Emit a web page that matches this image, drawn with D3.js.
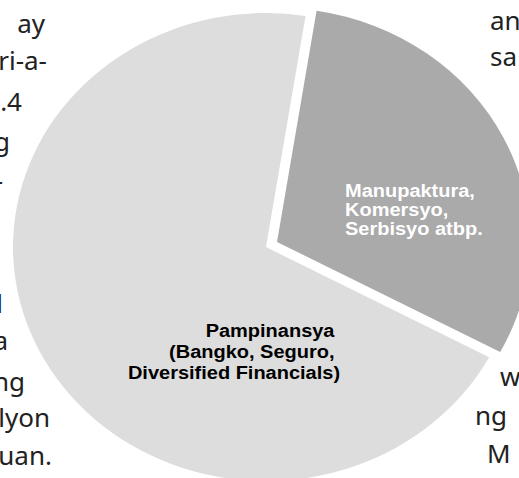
<!DOCTYPE html>
<html>
<head>
<meta charset="utf-8">
<script src="https://cdn.jsdelivr.net/npm/d3@7"></script>
<style>
  body { margin: 0; background: #fff; }
  svg { display: block; }
</style>
</head>
<body>
<div id="chart"></div>
<script>
// slices, drawn clockwise from the start angle
const sectors = ['Manupaktura, Komersyo, Serbisyo atbp.', 'Pampinansya (Bangko, Seguro, Diversified Financials)'];
const shares = [30.3, 69.7];
const sliceColors = ['#aaaaaa', '#dddddd'];
const labelColors = ['#ffffff', '#000000'];
const labelLines = [
    ['Manupaktura,', 'Komersyo,', 'Serbisyo atbp.'],
    ['Pampinansya ', '(Bangko, Seguro, ', 'Diversified Financials)']
];

// bits of the page text around the picture
const leftWords = ['ay', 'ri-a-', '.4', 'g', '-', 'l', 'a', 'ng', 'lyon', 'uan.'];
const leftEnds = [45, 47, 22, 10, 3, 3, 8, 25, 50, 52];
const leftBase = [33, 70, 111, 151, 190, 313, 350, 391, 427, 465];
const rightWords = ['an', 'sa', 'w', 'ng', 'M'];
const rightStarts = [490, 490, 500, 475, 487];
const rightBase = [30, 66, 386, 425, 463];

const width = 519;
const height = 478;
const cx = 271.5, cy = 244.5;
const radius = 234;
const stretch = 1.081;   // the picture is a bit wider than tall
const explode = 5.7;

const svg = d3.select('#chart')
    .append('svg')
        .attr('width', width)
        .attr('height', height);

// surrounding text
const body = svg.append('g')
    .attr('font-family', '"Noto Sans", sans-serif')
    .attr('font-size', 26)
    .attr('fill', '#222');
body.selectAll('.lw')
    .data(leftWords)
    .join('text')
        .attr('class', 'lw')
        .attr('text-anchor', 'end')
        .attr('x', (d, i) => leftEnds[i])
        .attr('y', (d, i) => leftBase[i])
        .text(d => d);
body.selectAll('.rw')
    .data(rightWords)
    .join('text')
        .attr('class', 'rw')
        .attr('x', (d, i) => rightStarts[i])
        .attr('y', (d, i) => rightBase[i])
        .text(d => d);

const pie = d3.pie()
    .sort(null)
    .value(d => d)
    .startAngle(9 * Math.PI / 180)
    .endAngle(9 * Math.PI / 180 + 2 * Math.PI);

const arc = d3.arc()
    .innerRadius(0)
    .outerRadius(radius);

const arcs = pie(shares);

const pieGroup = svg.append('g')
    .attr('transform', `translate(${cx},${cy}) scale(${stretch},1)`);

// move each slice out a little along its middle angle
const shift = d => {
    const mid = (d.startAngle + d.endAngle) / 2;
    return `translate(${Math.sin(mid) * explode},${-Math.cos(mid) * explode})`;
};

pieGroup.selectAll('.slice')
    .data(arcs)
    .join('path')
        .attr('class', 'slice')
        .attr('transform', shift)
        .attr('d', arc)
        .attr('fill', (d, i) => sliceColors[i]);

// label anchors, in pie units from the centre
const labelAnchor = [[68, -47.5, 'start', 19], [63.4, 92.5, 'end', 21]];

const labels = pieGroup.selectAll('.slice-label')
    .data(arcs)
    .join('text')
        .attr('class', 'slice-label')
        .attr('font-family', '"Liberation Sans", Arial, sans-serif')
        .attr('font-weight', 'bold')
        .attr('font-size', 18.5)
        .attr('fill', (d, i) => labelColors[i])
        .attr('text-anchor', (d, i) => labelAnchor[i][2])
        .style('white-space', 'pre');
labels.selectAll('tspan')
    .data((d, i) => labelLines[i].map((t, j) => ({t, j, i})))
    .join('tspan')
        .attr('x', d => labelAnchor[d.i][0])
        .attr('y', d => labelAnchor[d.i][1] + d.j * labelAnchor[d.i][3])
        .text(d => d.t);
</script>
</body>
</html>
